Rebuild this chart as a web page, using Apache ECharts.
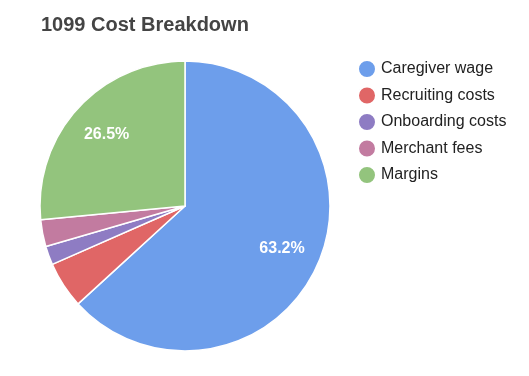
<!DOCTYPE html>
<html><head><meta charset="utf-8">
<script src="https://cdn.jsdelivr.net/npm/echarts@6/dist/echarts.min.js"></script>
<style>html,body{margin:0;padding:0;background:#fff}#c{width:529px;height:376px}</style>
</head><body><div id="c"></div>
<script>
const categories = ['Caregiver wage','Recruiting costs','Onboarding costs','Merchant fees','Margins'];
const values = [63.2, 5.2, 2.1, 3.0, 26.5];
const colors = ['#6d9eeb','#e06666','#8e7cc3','#c27ba0','#93c47d'];
const data = categories.map((n,i)=>({name:n,value:values[i]}));
const total = values.reduce((a,b)=>a+b,0);
const chart = echarts.init(document.getElementById('c'));
chart.setOption({
  animation:false,
  color: colors,
  title:{text:'1099 Cost Breakdown',left:36,top:10,textStyle:{fontFamily:'Liberation Sans, Arial',fontSize:20,fontWeight:'bold',color:'#444'}},
  legend:{orient:'vertical',left:352,top:54,icon:'circle',itemWidth:18,itemHeight:18,itemGap:6.5,
    textStyle:{fontFamily:'Liberation Sans, Arial',fontSize:16,lineHeight:16,color:'#222'},data:categories},
  series:[
    {type:'pie',center:[185,206],radius:[0,145],startAngle:90,clockwise:true,
     itemStyle:{borderColor:'#fff',borderWidth:1.5},label:{show:false},labelLine:{show:false},
     data:data,silent:true},
    {type:'pie',center:[185,206],radius:[0,206],startAngle:90,clockwise:true,silent:true,
     itemStyle:{color:'rgba(0,0,0,0)'},labelLine:{show:false},
     label:{show:true,position:'inside',color:'#fff',fontFamily:'Liberation Sans, Arial',fontSize:16,fontWeight:'bold',
       formatter:p=>{const pc=p.value/total*100;return pc>=10?pc.toFixed(1)+'%':'';}},
     data:data}
  ]
});
</script></body></html>
